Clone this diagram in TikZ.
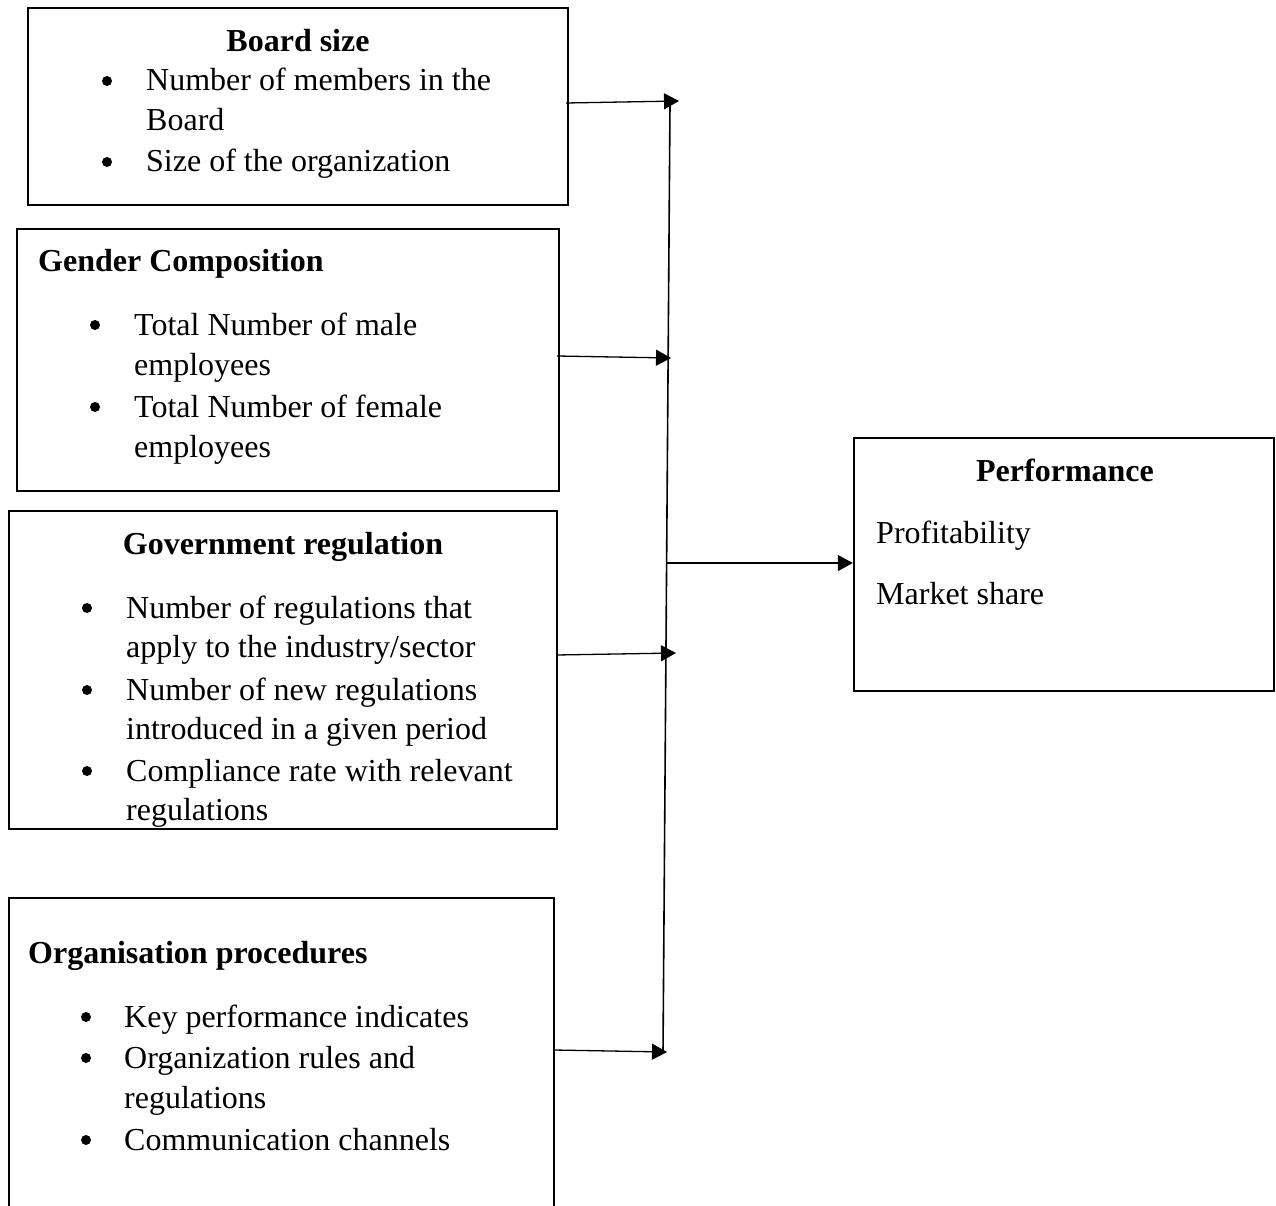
\documentclass[tikz,border=0pt]{standalone}
\usepackage{fontspec}
\setmainfont{Liberation Serif}
\usetikzlibrary{arrows.meta}
\begin{document}
\begin{tikzpicture}[x=1pt,y=-1pt,
  box/.style={draw, line width=2.4pt, rectangle, inner sep=0pt},
  txt/.style={anchor=base west, inner sep=0pt, font=\fontsize{32}{38}\selectfont},
  hdl/.style={anchor=base west, inner sep=0pt, font=\fontsize{32}{38}\selectfont\bfseries},
  hdc/.style={anchor=base, inner sep=0pt, font=\fontsize{32}{38}\selectfont\bfseries},
  dot/.style={circle, fill, inner sep=0pt, minimum size=10pt},
  link/.style={line width=1.3pt, -{Triangle[length=15pt,width=16pt]}},
  spine/.style={line width=1.6pt}]
\useasboundingbox (0,0) rectangle (1276,1206);
\clip (0,0) rectangle (1276,1206);
% boxes
\node[box, minimum width=540pt, minimum height=197pt] (bs) at (298,106.5) {};
\node[box, minimum width=542pt, minimum height=262pt] (gc) at (288,360) {};
\node[box, minimum width=548pt, minimum height=318pt] (gr) at (283,670) {};
\node[box, minimum width=545pt, minimum height=340pt] (op) at (281.5,1068) {};
\node[box, minimum width=420pt, minimum height=253pt] (pf) at (1064,564.5) {};
\begin{scope}[yshift=-2pt]
% board size
\node[hdc] (t1) at (298,50) {Board size};
\node[dot] (d11) at (107,79) {};
\node[txt] (t11) at (146,89) {Number of members in the};
\node[txt] (t12) at (146,129) {Board};
\node[dot] (d12) at (107,160) {};
\node[txt] (t13) at (146,170) {Size of the organization};
% gender
\node[hdl] (t2) at (38,270) {Gender Composition};
\node[dot] (d21) at (95,323) {};
\node[txt] (t21) at (134,333) {Total Number of male};
\node[txt] (t22) at (134,373) {employees};
\node[dot] (d22) at (95,405) {};
\node[txt] (t23) at (134,415) {Total Number of female};
\node[txt] (t24) at (134,455) {employees};
% government
\node[hdc] (t3) at (283,552) {Government regulation};
\node[dot] (d31) at (87,606) {};
\node[txt] (t31) at (126,616) {Number of regulations that};
\node[txt] (t32) at (126,655) {apply to the industry/sector};
\node[dot] (d32) at (87,688) {};
\node[txt] (t33) at (126,698) {Number of new regulations};
\node[txt] (t34) at (126,737) {introduced in a given period};
\node[dot] (d33) at (87,769) {};
\node[txt] (t35) at (126,779) {Compliance rate with relevant};
\node[txt] (t36) at (126,818) {regulations};
% organisation
\node[hdl] (t4) at (28,961) {Organisation procedures};
\node[dot] (d41) at (86,1015) {};
\node[txt] (t41) at (124,1025) {Key performance indicates};
\node[dot] (d42) at (86,1056) {};
\node[txt] (t42) at (124,1066) {Organization rules and};
\node[txt] (t43) at (124,1106) {regulations};
\node[dot] (d43) at (86,1138) {};
\node[txt] (t44) at (124,1148) {Communication channels};
% performance
\node[hdc] (t5) at (1065,479) {Performance};
\node[txt] (t51) at (876,541) {Profitability};
\node[txt] (t52) at (876,602) {Market share};
\end{scope}
% connectors
\coordinate (vtop) at (670,104);
\coordinate (vbot) at (663,1052);
\draw[spine] (vtop) -- (vbot);
\coordinate (s1) at (566,103);
\coordinate (e1) at (679,101);
\coordinate (s2) at (557,356);
\coordinate (e2) at (671,358);
\coordinate (s3) at (667,563);
\coordinate (s4) at (556,655);
\coordinate (e4) at (676,653);
\coordinate (s5) at (554,1050);
\coordinate (e5) at (667,1052);
\draw[link] (s1) -- (e1);
\draw[link] (s2) -- (e2);
\draw[link] (s3) -- (s3 -| pf.west);
\draw[link] (s4) -- (e4);
\draw[link] (s5) -- (e5);
\end{tikzpicture}
\end{document}
